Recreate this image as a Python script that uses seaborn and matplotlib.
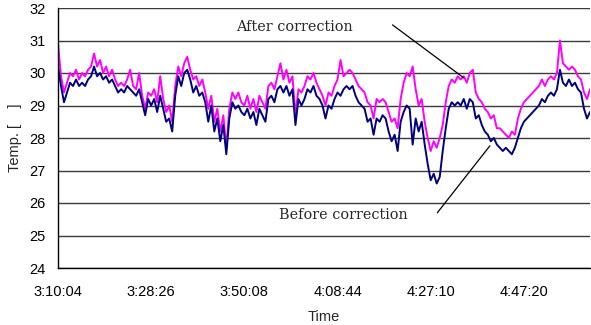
import matplotlib
matplotlib.use("Agg")
import matplotlib.pyplot as plt
import seaborn as sns
import pandas as pd
import numpy as np

# Temperature readings (one reading per sample step)
before_correction = [
    30.2, 29.6, 29.1, 29.4, 29.7, 29.6, 29.8, 29.6, 29.7, 29.6,
    29.8, 29.9, 30.2, 29.9, 30.0, 29.8, 29.9, 29.7, 29.8, 29.6,
    29.4, 29.5, 29.4, 29.6, 29.5, 29.4, 29.3, 29.5, 29.1, 28.7,
    29.2, 29.0, 29.2, 28.8, 29.3, 28.9, 28.5, 28.6, 28.2, 29.3,
    29.9, 29.6, 30.0, 30.1, 29.8, 29.4, 29.6, 29.3, 29.4, 29.1,
    28.5, 29.0, 28.2, 28.6, 27.9, 28.4, 27.5, 28.6, 29.1, 28.9,
    29.0, 28.8, 28.7, 28.9, 28.6, 28.8, 28.4, 28.9, 28.7, 28.5,
    29.2, 29.3, 29.1, 29.5, 29.6, 29.4, 29.6, 29.3, 29.5, 28.4,
    29.2, 29.0, 29.2, 29.5, 29.4, 29.6, 29.3, 29.2, 29.0, 28.6,
    29.0, 28.9, 29.2, 29.4, 29.3, 29.5, 29.6, 29.5, 29.6, 29.3,
    29.1, 29.0, 28.9, 28.5, 28.6, 28.1, 28.6, 28.5, 28.7, 28.6,
    28.2, 27.9, 28.1, 27.6, 28.5, 28.8, 29.0, 28.9, 27.8, 28.6,
    28.2, 28.5, 27.8, 27.2, 26.7, 26.9, 26.6, 26.8, 27.6, 28.3,
    28.9, 29.1, 29.0, 29.1, 29.0, 29.2, 28.9, 29.2, 29.1, 28.6,
    28.7, 28.4, 28.2, 28.1, 27.9, 28.0, 27.8, 27.7, 27.6, 27.7,
    27.6, 27.5, 27.7, 28.0, 28.3, 28.5, 28.6, 28.7, 28.8, 28.9,
    29.0, 29.2, 29.1, 29.3, 29.4, 29.3, 29.5, 30.1, 29.7, 29.6,
    29.8, 29.6, 29.7, 29.5, 29.4, 28.9, 28.6, 28.8,
]
after_correction = [
    30.9, 29.9, 29.4, 29.7, 30.0, 29.9, 30.1, 29.8, 30.0, 29.9,
    30.1, 30.2, 30.6, 30.2, 30.4, 30.0, 30.2, 29.9, 30.1, 29.8,
    29.6, 29.7, 29.6, 29.8, 30.1, 29.6, 29.5, 30.0, 29.3, 28.9,
    29.4, 29.3, 29.5, 29.1, 29.9, 29.2, 28.8, 29.0, 28.5, 29.6,
    30.2, 29.9, 30.3, 30.5, 30.1, 29.8, 29.9, 29.6, 29.8, 29.4,
    28.9, 29.3, 28.5, 28.9, 28.2, 28.7, 27.7, 28.9, 29.4, 29.2,
    29.4, 29.1, 29.0, 29.3, 28.9, 29.2, 28.8, 29.3, 29.1, 28.9,
    29.6, 29.7, 29.5, 29.9, 30.3, 29.8, 30.1, 29.7, 29.9, 28.7,
    29.5, 29.4, 29.6, 29.9, 29.8, 30.0, 29.7, 29.5, 29.3, 29.0,
    29.4, 29.3, 29.6, 29.8, 30.4, 29.9, 30.0, 30.1, 30.0, 29.8,
    29.6, 29.5, 29.4, 29.1, 29.0, 28.6, 29.2, 29.1, 29.2, 29.1,
    28.8, 28.5, 28.6, 28.3, 29.2, 29.7, 30.0, 29.9, 30.2, 29.5,
    29.0, 29.2, 28.5, 28.0, 27.6, 27.9, 27.7, 28.0, 28.4, 29.1,
    29.6, 29.8, 29.7, 29.9, 29.8, 29.9, 29.7, 30.0, 30.1, 29.4,
    29.2, 29.1, 28.9, 28.8, 28.6, 28.7, 28.3, 28.3, 28.2, 28.1,
    28.0, 28.2, 28.1, 28.6, 28.9, 29.1, 29.2, 29.3, 29.4, 29.5,
    29.6, 29.8, 29.6, 29.8, 29.9, 29.8, 30.0, 31.0, 30.3, 30.2,
    30.1, 30.2, 30.1, 29.9, 29.8, 29.4, 29.2, 29.5,
]
time_labels = ["3:10:04", "3:28:26", "3:50:08", "4:08:44", "4:27:10", "4:47:20"]
label_step = 31  # samples between labelled times

df = pd.DataFrame({
    "sample": np.arange(len(before_correction)),
    "before": before_correction,
    "after": after_correction,
})

sns.set_style("white")
plt.rcParams["font.family"] = ["Liberation Sans", "DejaVu Sans"]

fig = plt.figure(figsize=(5.91, 3.25), dpi=100)
ax = fig.add_axes([58 / 591, 57 / 325, 532 / 591, 260 / 325])

sns.lineplot(data=df, x="sample", y="after", ax=ax, color="#ff00ff", lw=1.4)
sns.lineplot(data=df, x="sample", y="before", ax=ax, color="#000080", lw=1.4)

ax.set_xlim(0, len(before_correction) - 1)
ax.set_ylim(24, 32)
ax.set_yticks(range(24, 33))
ax.set_xticks([i * label_step for i in range(len(time_labels))])
ax.set_xticklabels(time_labels)

ax.grid(axis="y", color="#3a3a3a", lw=1.0)
ax.grid(axis="x", visible=False)
ax.set_axisbelow(True)
for side in ("top", "right"):
    ax.spines[side].set_visible(False)
for side in ("left", "bottom"):
    ax.spines[side].set_color("black")
    ax.spines[side].set_linewidth(1.0)

ax.tick_params(axis="y", length=0, pad=9, labelsize=10.5, colors="black")
ax.tick_params(axis="x", direction="in", length=4, width=1, pad=12,
               labelsize=10.5, colors="black")

ax.set_xlabel("Time", fontsize=10.5, labelpad=8)
ax.set_ylabel("Temp. [    ]", fontsize=10.5, labelpad=5)

# Callout labels for the two series, each with a leader line
serif = ["DejaVu Serif"]
ax.text(78.7, 31.42, "After correction", ha="center", va="center",
        fontsize=10.4, family=serif)
ax.annotate("", xy=(135, 29.85), xytext=(111.3, 31.48),
            arrowprops=dict(arrowstyle="-", color="black", lw=0.9,
                            shrinkA=0, shrinkB=0))
ax.text(95, 25.63, "Before correction", ha="center", va="center",
        fontsize=10.4, family=serif)
ax.annotate("", xy=(143.7, 27.76), xytext=(126.2, 25.70),
            arrowprops=dict(arrowstyle="-", color="black", lw=0.9,
                            shrinkA=0, shrinkB=0))

fig.savefig("out.png", dpi=100)
